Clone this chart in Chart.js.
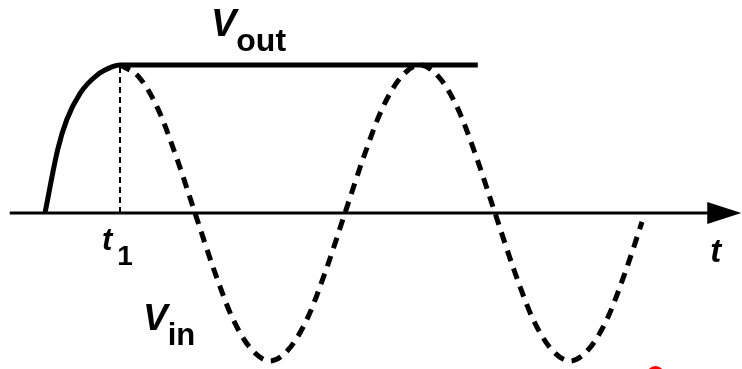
<!DOCTYPE html>
<html>
<head>
<meta charset="utf-8">
<script src="https://cdn.jsdelivr.net/npm/chart.js@4/dist/chart.umd.min.js"></script>
<style>
  html, body { margin: 0; padding: 0; background: #fff; }
  #wrap { width: 742px; height: 369px; }
</style>
</head>
<body>
<div id="wrap"><canvas id="c" width="742" height="369"></canvas></div>
<script>
// Time is measured in units of t1 (a quarter period of the input sine).
const vinTime   = [1, 1.25, 1.5, 1.75, 2, 2.25, 2.5, 2.75, 3, 3.25, 3.5, 3.75, 4,
                   4.25, 4.5, 4.75, 5, 5.25, 5.5, 5.75, 6, 6.25, 6.5, 6.75, 7,
                   7.25, 7.5, 7.75, 7.96];
const vinValues = [1, 0.92, 0.71, 0.38, 0, -0.38, -0.71, -0.92, -1, -0.92, -0.71, -0.38, 0,
                   0.38, 0.71, 0.92, 1, 0.92, 0.71, 0.38, 0, -0.38, -0.71, -0.92, -1,
                   -0.92, -0.71, -0.38, -0.06];

// Output charges up to the input peak at t1, then holds it.
const voutTime   = [0, 0.17, 0.29, 0.47, 0.69, 0.91, 1, 5.77];
const voutValues = [0, 0.43, 0.63, 0.81, 0.93, 0.99, 1, 1];

const t1Time   = [1, 1];
const t1Values = [0, 1];

const axisTime   = [-0.47, 8.9];
const axisValues = [0, 0];

const dotTime   = [8.14];
const dotValues = [-1.095];

const toXY = (xs, ys) => xs.map((x, i) => ({ x: x, y: ys[i] }));

const FONT = '"Liberation Sans", Arial, Helvetica, sans-serif';

// Text labels anchored in data coordinates: main symbol plus subscript.
const labels = [
  { main: 'V', sub: 'out', t: 2.213, v: 1.196,  mainFont: 'italic bold 38px ' + FONT, subFont: 'bold 32px ' + FONT, gap: 0, drop: 15 },
  { main: 't', sub: '1',   t: 0.76,  v: -0.25,  mainFont: 'italic bold 31px ' + FONT, subFont: 'bold 28px ' + FONT, gap: 5, drop: 15 },
  { main: 'V', sub: 'in',  t: 1.307, v: -0.79,  mainFont: 'italic bold 37px ' + FONT, subFont: 'bold 31px ' + FONT, gap: 0, drop: 15 },
  { main: 't', sub: '',    t: 8.87,  v: -0.331, mainFont: 'italic bold 33px ' + FONT, subFont: 'bold 28px ' + FONT, gap: 0, drop: 0 }
];

const arrowPlugin = {
  id: 'axisArrow',
  afterDatasetsDraw(chart) {
    const ctx = chart.ctx, xs = chart.scales.x, ys = chart.scales.y;
    const base = xs.getPixelForValue(8.83);
    const tip = base + 34;
    const y0 = ys.getPixelForValue(0);
    ctx.save();
    ctx.fillStyle = '#000';
    ctx.beginPath();
    ctx.moveTo(base, y0 - 11);
    ctx.lineTo(tip, y0);
    ctx.lineTo(base, y0 + 11);
    ctx.closePath();
    ctx.fill();
    ctx.restore();
  }
};

const labelPlugin = {
  id: 'symbolLabels',
  afterDraw(chart) {
    const ctx = chart.ctx, xs = chart.scales.x, ys = chart.scales.y;
    ctx.save();
    ctx.fillStyle = '#000';
    ctx.textBaseline = 'alphabetic';
    ctx.textAlign = 'left';
    labels.forEach(l => {
      const px = xs.getPixelForValue(l.t);
      const py = ys.getPixelForValue(l.v);
      ctx.font = l.mainFont;
      ctx.fillText(l.main, px, py);
      const w = ctx.measureText(l.main).width;
      if (l.sub) {
        ctx.font = l.subFont;
        ctx.fillText(l.sub, px + w + l.gap, py + l.drop);
      }
    });
    ctx.restore();
  }
};

new Chart(document.getElementById('c'), {
  type: 'line',
  data: {
    datasets: [
      {
        label: 'Vout', data: toXY(voutTime, voutValues), order: 1,
        borderColor: '#000', borderWidth: 5, pointRadius: 0,
        cubicInterpolationMode: 'monotone', borderCapStyle: 'butt', fill: false
      },
      {
        label: 't1', data: toXY(t1Time, t1Values), order: 2,
        borderColor: '#000', borderWidth: 2, borderDash: [6, 4], pointRadius: 0, fill: false
      },
      {
        label: 'Vin', data: toXY(vinTime, vinValues), order: 3,
        borderColor: '#000', borderWidth: 5, borderDash: [11, 8], pointRadius: 0,
        cubicInterpolationMode: 'monotone', borderCapStyle: 'butt', fill: false
      },
      {
        label: 'axis', data: toXY(axisTime, axisValues), order: 4,
        borderColor: '#000', borderWidth: 3, pointRadius: 0, fill: false
      },
      {
        label: 'dot', data: toXY(dotTime, dotValues), order: 5, showLine: false,
        pointRadius: 9, pointBackgroundColor: '#ff0000', pointBorderWidth: 0,
        borderColor: '#ff0000', clip: false
      }
    ]
  },
  options: {
    responsive: false,
    animation: false,
    devicePixelRatio: 1,
    layout: { padding: 0, autoPadding: false },
    scales: {
      x: { type: 'linear', min: -0.6, max: 9.293, display: false },
      y: { type: 'linear', min: -1.054, max: 1.439, display: false }
    },
    plugins: { legend: { display: false }, tooltip: { enabled: false } }
  },
  plugins: [arrowPlugin, labelPlugin]
});
</script>
</body>
</html>
